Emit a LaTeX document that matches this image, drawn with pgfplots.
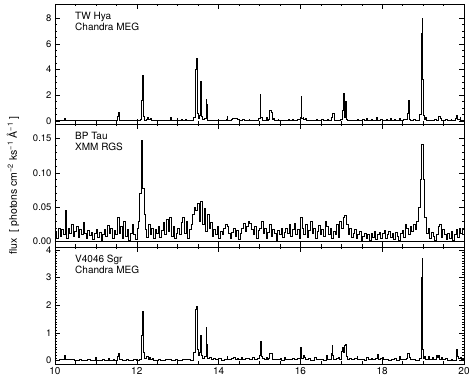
\documentclass[border=0pt]{standalone}
\usepackage{fontspec}
\setmainfont{TeX Gyre Heros}
\usepackage{pgfplots}
\pgfplotsset{compat=1.18}
\pgfplotsset{
  spec/.style={
    scale only axis, width=409pt,
    xmin=10, xmax=20,
    xtick={10,12,14,16,18,20},
    minor x tick num=3,
    tick align=inside,
    major tick length=5pt, minor tick length=2.5pt,
    xtick pos=both, ytick pos=both,
    every tick/.style={black, line width=0.5pt},
    axis line style={line width=0.5pt},
    tick label style={font=\fontsize{9.5}{10}\selectfont},
    /pgf/number format/assume math mode=true,
  },
  hist/.style={const plot mark left, black, line width=0.5pt, mark=none},
}
\begin{document}
\begin{tikzpicture}
\useasboundingbox (-55pt,-18pt) rectangle (419pt,364pt);
% ---------------- top: TW Hya ----------------
\begin{axis}[spec, at={(0,240pt)}, anchor=south west, height=120pt,
  ymin=-0.25, ymax=9.1, ytick={0,2,4,6,8}, minor y tick num=3,
  xticklabels={}]
\addplot[hist] coordinates {
(10.00,0.05)(10.08,0.02)(10.20,0.06)(10.23,0.22)(10.26,0.04)(10.35,0.06)(10.40,0.02)(10.52,0.05)(10.60,0.03)(10.70,0.07)(10.73,0.02)(10.85,0.05)(10.90,0.02)(11.00,0.08)(11.03,0.03)(11.15,0.06)(11.20,0.02)(11.30,0.05)(11.36,0.03)(11.45,0.07)(11.48,0.03)(11.52,0.35)(11.54,0.65)(11.56,0.08)(11.60,0.03)(11.72,0.06)(11.76,0.02)(11.88,0.07)(11.92,0.03)(12.02,0.06)(12.08,0.10)(12.11,1.6)(12.13,3.55)(12.15,0.35)(12.17,0.08)(12.22,0.15)(12.25,0.25)(12.28,0.15)(12.32,0.22)(12.35,0.06)(12.45,0.08)(12.50,0.03)(12.62,0.05)(12.68,0.02)(12.80,0.08)(12.82,0.3)(12.84,0.04)(12.92,0.06)(12.98,0.2)(13.00,0.04)(13.08,0.15)(13.10,0.04)(13.18,0.12)(13.20,0.05)(13.28,0.08)(13.32,0.05)(13.39,0.25)(13.43,4.0)(13.45,4.85)(13.47,0.55)(13.50,0.2)(13.53,0.45)(13.55,3.1)(13.57,0.35)(13.60,0.1)(13.66,0.2)(13.69,1.65)(13.71,1.3)(13.73,0.06)(13.80,0.04)(13.88,0.08)(13.92,0.04)(14.00,0.06)(14.06,0.03)(14.18,0.1)(14.20,0.38)(14.22,0.06)(14.30,0.12)(14.34,0.16)(14.38,0.2)(14.42,0.18)(14.46,0.12)(14.50,0.05)(14.58,0.1)(14.62,0.04)(14.70,0.08)(14.74,0.15)(14.76,0.05)(14.85,0.08)(14.90,0.04)(14.97,0.2)(15.01,2.05)(15.03,0.25)(15.06,0.08)(15.10,0.05)(15.16,0.3)(15.18,0.08)(15.22,0.12)(15.25,0.8)(15.29,0.65)(15.31,0.1)(15.34,0.2)(15.36,0.05)(15.45,0.15)(15.47,0.04)(15.55,0.08)(15.60,0.03)(15.70,0.1)(15.72,0.03)(15.80,0.15)(15.82,0.05)(15.92,0.1)(15.99,0.3)(16.01,1.95)(16.03,0.2)(16.06,0.3)(16.08,0.12)(16.12,0.18)(16.15,0.05)(16.25,0.08)(16.30,0.03)(16.38,0.1)(16.42,0.04)(16.52,0.12)(16.55,0.04)(16.65,0.15)(16.68,0.05)(16.75,0.3)(16.77,0.6)(16.81,0.55)(16.83,0.08)(16.90,0.05)(16.98,0.15)(17.03,0.85)(17.05,2.15)(17.07,0.3)(17.09,1.5)(17.11,0.1)(17.15,0.05)(17.25,0.08)(17.30,0.03)(17.40,0.12)(17.42,0.04)(17.52,0.1)(17.55,0.04)(17.62,0.18)(17.64,0.05)(17.72,0.1)(17.76,0.04)(17.85,0.25)(17.88,0.06)(17.95,0.1)(18.00,0.04)(18.10,0.15)(18.12,0.04)(18.20,0.22)(18.22,0.05)(18.30,0.12)(18.33,0.04)(18.42,0.2)(18.45,0.05)(18.52,0.1)(18.61,0.55)(18.63,1.6)(18.65,0.1)(18.68,0.06)(18.76,0.1)(18.80,0.04)(18.91,0.5)(18.95,6.8)(18.97,8.0)(18.99,3.2)(19.01,0.4)(19.03,0.1)(19.06,0.3)(19.08,0.05)(19.15,0.08)(19.20,0.03)(19.28,0.1)(19.32,0.04)(19.38,0.35)(19.42,0.2)(19.45,0.05)(19.55,0.1)(19.58,0.04)(19.68,0.15)(19.70,0.04)(19.78,0.2)(19.82,0.4)(19.84,0.1)(19.90,0.3)(19.92,0.05)(20.00,0.05)
};
\node[anchor=north west, inner sep=0pt, align=left, font=\fontsize{10}{11}\selectfont]
  at (axis description cs:0.049,1) [yshift=-8.4pt] {TW Hya\\Chandra MEG};
\end{axis}
% ---------------- middle: BP Tau ----------------
\begin{axis}[spec, at={(0,117pt)}, anchor=south west, height=123pt,
  ymin=-0.008, ymax=0.171, ytick={0,0.05,0.10,0.15}, minor y tick num=4,
  yticklabel style={/pgf/number format/.cd, fixed, fixed zerofill, precision=2},
  xticklabels={},
  ylabel={flux\ \ [ photons cm\textsuperscript{−2} ks\textsuperscript{−1} Å\textsuperscript{−1} ]},
  ylabel style={font=\fontsize{10.5}{12}\selectfont, at={(axis description cs:-0.103,0.5)}, anchor=center}]
\addplot[black, line width=1pt] coordinates {(10,0)(20,0)};
\addplot[hist] coordinates {
(10.00,0.015)(10.04,0.005)(10.08,0.02)(10.12,0.008)(10.16,0.018)(10.20,0.01)(10.24,0.045)(10.28,0.004)(10.32,0.02)(10.36,0.012)(10.40,0.025)(10.44,0.008)(10.48,0.015)(10.52,0.022)(10.56,0.006)(10.60,0.018)(10.64,0.01)(10.68,0.028)(10.72,0.012)(10.76,0.004)(10.80,0.016)(10.84,0.009)(10.88,0.014)(10.92,0.003)(10.96,0.012)(11.00,0.018)(11.04,0.006)(11.08,0.014)(11.12,0.002)(11.16,0.01)(11.20,0.018)(11.24,0.008)(11.28,0.024)(11.32,0.012)(11.36,0.02)(11.40,0.005)(11.44,0.016)(11.48,0.01)(11.52,0.035)(11.56,0.012)(11.60,0.022)(11.64,0.004)(11.68,0.03)(11.72,0.008)(11.76,0.018)(11.80,0.002)(11.84,0.012)(11.88,0.025)(11.92,0.01)(11.96,0.003)(12.00,0.02)(12.04,0.03)(12.07,0.07)(12.10,0.082)(12.12,0.148)(12.14,0.078)(12.17,0.04)(12.20,0.018)(12.24,0.006)(12.28,0.025)(12.32,0.01)(12.36,0.02)(12.40,0.004)(12.44,0.018)(12.48,0.012)(12.52,0.022)(12.56,0.006)(12.60,0.016)(12.64,0.028)(12.68,0.01)(12.72,0.032)(12.76,0.015)(12.80,0.035)(12.84,0.008)(12.88,0.022)(12.92,0.004)(12.96,0.012)(13.00,0.02)(13.04,0.01)(13.08,0.028)(13.12,0.035)(13.16,0.012)(13.20,0.03)(13.24,0.005)(13.28,0.018)(13.32,0.025)(13.36,0.04)(13.40,0.05)(13.44,0.045)(13.48,0.055)(13.52,0.03)(13.56,0.058)(13.60,0.025)(13.64,0.048)(13.68,0.015)(13.72,0.04)(13.76,0.02)(13.80,0.028)(13.84,0.008)(13.88,0.018)(13.92,0.01)(13.96,0.022)(14.00,0.005)(14.04,0.015)(14.08,0.01)(14.12,0.02)(14.16,0.025)(14.20,0.022)(14.24,0.012)(14.28,0.004)(14.32,0.014)(14.36,0.02)(14.40,0.008)(14.44,0.016)(14.48,0.003)(14.52,0.012)(14.56,0.02)(14.60,0.026)(14.64,0.015)(14.68,0.022)(14.72,0.03)(14.76,0.026)(14.80,0.018)(14.84,0.01)(14.88,0.022)(14.92,0.005)(14.96,0.016)(15.00,0.02)(15.04,0.03)(15.08,0.012)(15.12,0.02)(15.16,0.004)(15.20,0.014)(15.24,0.025)(15.28,0.008)(15.32,0.018)(15.36,0.012)(15.40,0.002)(15.44,0.016)(15.48,0.01)(15.52,0.02)(15.56,0.006)(15.60,0.014)(15.64,0.02)(15.68,0.012)(15.72,0.025)(15.76,0.008)(15.80,0.018)(15.84,0.026)(15.88,0.01)(15.92,0.018)(15.96,0.004)(16.00,0.035)(16.04,0.02)(16.08,0.01)(16.12,0.025)(16.16,0.006)(16.20,0.016)(16.24,0.03)(16.28,0.012)(16.32,0.02)(16.36,0.004)(16.40,0.015)(16.44,0.024)(16.48,0.01)(16.52,0.018)(16.56,0.008)(16.60,0.03)(16.64,0.022)(16.68,0.01)(16.72,0.02)(16.76,0.005)(16.80,0.015)(16.84,0.01)(16.88,0.025)(16.92,0.006)(16.96,0.03)(17.00,0.02)(17.04,0.035)(17.08,0.038)(17.12,0.025)(17.16,0.01)(17.20,0.02)(17.24,0.006)(17.28,0.012)(17.32,0.018)(17.36,0.004)(17.40,0.01)(17.44,0.015)(17.48,0.002)(17.52,0.008)(17.56,0.012)(17.60,0.004)(17.64,0.01)(17.68,0.002)(17.72,0.012)(17.76,0.006)(17.80,0.015)(17.84,0.003)(17.88,0.01)(17.92,0.014)(17.96,0.005)(18.00,0.012)(18.04,0.016)(18.08,0.004)(18.12,0.01)(18.16,0.015)(18.20,0.006)(18.24,0.012)(18.28,0.003)(18.32,0.014)(18.36,0.008)(18.40,0.002)(18.44,0.012)(18.48,0.016)(18.52,0.006)(18.56,0.025)(18.60,0.02)(18.64,0.01)(18.68,0.022)(18.72,0.015)(18.76,0.025)(18.80,0.018)(18.84,0.03)(18.88,0.05)(18.92,0.09)(18.96,0.142)(19.00,0.09)(19.04,0.035)(19.08,0.012)(19.12,0.02)(19.16,0.004)(19.20,0.014)(19.24,0.008)(19.28,0.002)(19.32,0.01)(19.36,0.022)(19.40,0.025)(19.44,0.006)(19.48,0.018)(19.52,0.01)(19.56,0.003)(19.60,0.012)(19.64,0.005)(19.68,0.015)(19.72,0.002)(19.76,0.01)(19.80,0.018)(19.84,0.006)(19.88,0.02)(19.92,0.012)(19.96,0.018)(20.00,0.01)
};
\node[anchor=north west, inner sep=0pt, align=left, font=\fontsize{10}{11}\selectfont]
  at (axis description cs:0.049,1) [yshift=-8.4pt] {BP Tau\\XMM RGS};
\end{axis}
% ---------------- bottom: V4046 Sgr ----------------
\begin{axis}[spec, at={(0,0)}, anchor=south west, height=117pt,
  ymin=-0.12, ymax=4.1, ytick={0,1,2,3,4}, minor y tick num=9,
  xticklabel style={font=\fontsize{10}{12}\selectfont}]
\addplot[hist] coordinates {
(10.00,0.03)(10.10,0.05)(10.22,0.18)(10.25,0.04)(10.40,0.05)(10.46,0.02)(10.60,0.06)(10.64,0.02)(10.80,0.05)(10.85,0.02)(10.98,0.12)(11.01,0.03)(11.15,0.05)(11.20,0.02)(11.30,0.08)(11.33,0.02)(11.42,0.06)(11.46,0.03)(11.52,0.15)(11.54,0.28)(11.56,0.04)(11.65,0.03)(11.75,0.06)(11.80,0.02)(11.92,0.05)(11.98,0.03)(12.06,0.06)(12.11,0.9)(12.13,1.8)(12.15,0.3)(12.18,0.08)(12.24,0.15)(12.27,0.06)(12.30,0.12)(12.34,0.05)(12.38,0.1)(12.41,0.03)(12.52,0.05)(12.58,0.02)(12.70,0.04)(12.80,0.06)(12.84,0.02)(12.95,0.05)(13.00,0.02)(13.10,0.04)(13.20,0.05)(13.30,0.03)(13.39,0.3)(13.43,1.85)(13.45,1.95)(13.47,0.4)(13.50,0.2)(13.53,0.3)(13.55,0.9)(13.57,0.2)(13.61,0.1)(13.66,0.15)(13.69,1.2)(13.71,0.6)(13.73,0.08)(13.78,0.12)(13.82,0.05)(13.88,0.1)(13.92,0.04)(14.00,0.08)(14.06,0.03)(14.15,0.06)(14.20,0.15)(14.22,0.04)(14.30,0.08)(14.35,0.12)(14.40,0.06)(14.45,0.1)(14.48,0.04)(14.55,0.12)(14.58,0.05)(14.65,0.08)(14.70,0.1)(14.74,0.04)(14.82,0.12)(14.86,0.04)(14.94,0.1)(14.99,0.2)(15.01,0.7)(15.04,0.15)(15.07,0.08)(15.12,0.05)(15.16,0.12)(15.18,0.04)(15.22,0.1)(15.25,0.28)(15.29,0.26)(15.31,0.05)(15.40,0.04)(15.50,0.08)(15.54,0.03)(15.60,0.12)(15.62,0.04)(15.72,0.05)(15.80,0.1)(15.84,0.04)(15.92,0.08)(15.97,0.1)(15.99,0.5)(16.01,0.45)(16.03,0.1)(16.06,0.2)(16.09,0.12)(16.11,0.05)(16.20,0.08)(16.25,0.03)(16.35,0.12)(16.38,0.04)(16.48,0.06)(16.55,0.03)(16.62,0.18)(16.65,0.04)(16.75,0.25)(16.77,0.55)(16.79,0.2)(16.81,0.05)(16.88,0.1)(16.92,0.12)(16.95,0.04)(17.01,0.35)(17.03,0.5)(17.05,0.3)(17.07,0.55)(17.09,0.6)(17.11,0.15)(17.14,0.06)(17.20,0.1)(17.24,0.04)(17.32,0.08)(17.38,0.15)(17.40,0.05)(17.48,0.06)(17.55,0.03)(17.62,0.12)(17.65,0.04)(17.72,0.1)(17.76,0.04)(17.84,0.08)(17.88,0.22)(17.90,0.05)(17.96,0.1)(18.00,0.12)(18.03,0.04)(18.10,0.06)(18.16,0.03)(18.22,0.05)(18.30,0.08)(18.35,0.03)(18.42,0.15)(18.45,0.04)(18.52,0.06)(18.58,0.1)(18.62,0.25)(18.65,0.12)(18.68,0.04)(18.76,0.05)(18.82,0.03)(18.91,0.1)(18.95,3.0)(18.97,3.7)(18.99,0.4)(19.01,0.08)(19.04,0.15)(19.06,0.04)(19.12,0.15)(19.14,0.04)(19.22,0.12)(19.25,0.04)(19.32,0.2)(19.35,0.12)(19.38,0.18)(19.40,0.05)(19.45,0.12)(19.48,0.04)(19.55,0.1)(19.58,0.03)(19.68,0.05)(19.72,0.02)(19.80,0.42)(19.83,0.15)(19.86,0.08)(19.90,0.12)(19.93,0.04)(20.00,0.04)
};
\node[anchor=north west, inner sep=0pt, align=left, font=\fontsize{10}{11}\selectfont]
  at (axis description cs:0.049,1) [yshift=-7.4pt] {V4046 Sgr\\Chandra MEG};
\end{axis}
\end{tikzpicture}
\end{document}
